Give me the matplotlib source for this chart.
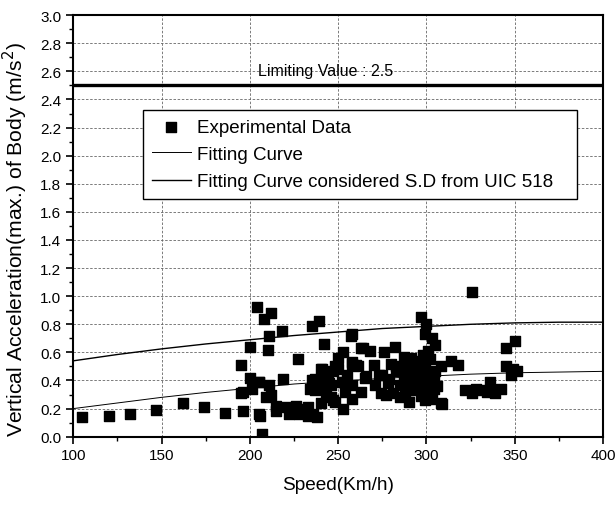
import numpy as np
import matplotlib.pyplot as plt

plt.rcParams['font.family'] = ['Liberation Sans', 'DejaVu Sans']

points_low_speed = [(105, 0.14), (120, 0.15), (132, 0.16), (147, 0.19), (162, 0.24),
                    (174, 0.21), (186, 0.17), (196, 0.18), (196, 0.32), (195, 0.51),
                    (200, 0.64), (200, 0.42), (201, 0.34), (204, 0.92), (205, 0.39),
                    (205, 0.16), (206, 0.15), (207, 0.02), (208, 0.84), (209, 0.28),
                    (210, 0.62), (211, 0.72), (211, 0.37), (212, 0.88), (212, 0.30),
                    (195, 0.31), (205, 0.39)]
points_mid_speed = [(215, 0.22), (215, 0.18), (218, 0.75), (219, 0.41), (221, 0.21),
                    (222, 0.16), (226, 0.22), (228, 0.16), (231, 0.20), (233, 0.15),
                    (235, 0.79), (236, 0.16), (238, 0.14), (239, 0.82), (235, 0.40),
                    (239, 0.40), (242, 0.66), (227, 0.55), (234, 0.34), (240, 0.48),
                    (242, 0.39), (244, 0.44), (246, 0.37), (248, 0.25), (248, 0.50),
                    (250, 0.48), (252, 0.39), (253, 0.20), (254, 0.32), (255, 0.44),
                    (246, 0.28), (237, 0.41), (237, 0.33), (240, 0.24), (233, 0.21),
                    (253, 0.60), (258, 0.52), (247, 0.47), (243, 0.31), (241, 0.48),
                    (247, 0.26), (245, 0.38), (250, 0.56), (253, 0.39), (258, 0.73),
                    (258, 0.37), (258, 0.27), (258, 0.53)]
points_high_speed = [(257, 0.72), (261, 0.50), (260, 0.51), (263, 0.32), (263, 0.63),
                     (264, 0.63), (265, 0.42), (266, 0.43), (268, 0.61), (270, 0.51),
                     (271, 0.37), (273, 0.44), (274, 0.31), (275, 0.44), (276, 0.60),
                     (277, 0.30), (278, 0.38), (279, 0.41), (280, 0.52), (281, 0.31),
                     (282, 0.64), (283, 0.47), (283, 0.50), (285, 0.37), (285, 0.28),
                     (287, 0.44), (287, 0.57), (289, 0.39), (289, 0.50), (290, 0.25),
                     (291, 0.47), (291, 0.56), (293, 0.33), (293, 0.51), (294, 0.41),
                     (294, 0.34), (295, 0.46), (296, 0.45), (297, 0.29), (297, 0.85),
                     (298, 0.50), (298, 0.58), (299, 0.73), (299, 0.26), (299, 0.31),
                     (300, 0.80), (300, 0.46), (300, 0.38), (301, 0.61), (302, 0.44),
                     (302, 0.55), (303, 0.27), (303, 0.70), (304, 0.34), (304, 0.41),
                     (305, 0.65), (305, 0.47), (306, 0.36), (308, 0.50), (308, 0.24),
                     (309, 0.23), (296, 0.36), (298, 0.40), (292, 0.42), (288, 0.30),
                     (286, 0.48), (301, 0.35), (303, 0.42), (295, 0.54), (290, 0.33),
                     (299, 0.51)]
points_far_speed = [(314, 0.54), (318, 0.51), (322, 0.33), (326, 1.03), (326, 0.31),
                    (328, 0.34), (331, 0.33), (334, 0.32), (336, 0.39), (339, 0.31),
                    (342, 0.34), (345, 0.63), (345, 0.50), (348, 0.44), (349, 0.48),
                    (350, 0.68), (351, 0.47)]

# fitting curves, read at every 25 km/h
fit_speed = [100, 125, 150, 175, 200, 225, 250, 275, 300, 325, 350, 375, 400]
fit_mean = [0.20, 0.24, 0.28, 0.315, 0.345, 0.375, 0.395, 0.415, 0.43, 0.445, 0.455, 0.46, 0.465]
fit_sd = [0.54, 0.585, 0.625, 0.66, 0.69, 0.72, 0.745, 0.77, 0.785, 0.80, 0.81, 0.815, 0.815]

limit_value = 2.5

all_points = points_low_speed + points_mid_speed + points_high_speed + points_far_speed
speed = [p[0] for p in all_points]
accel = [p[1] for p in all_points]

fig = plt.figure(figsize=(6.16, 5.06), dpi=100)
ax = fig.add_axes([0.119, 0.135, 0.860, 0.833])

ax.grid(True, which='major', linestyle=(0, (3, 2)), color='#666666', linewidth=0.6)
ax.set_axisbelow(True)

ax.scatter(speed, accel, marker='s', s=42, color='black', label='Experimental Data', zorder=3)
ax.plot(fit_speed, fit_mean, color='black', linewidth=0.7, label='Fitting Curve')
ax.plot(fit_speed, fit_sd, color='black', linewidth=1.0,
        label='Fitting Curve considered S.D from UIC 518')
ax.axhline(limit_value, color='black', linewidth=2.4)
ax.text(243, 2.55, 'Limiting Value : 2.5', fontsize=11.5, ha='center', va='bottom')

ax.set_xlim(100, 400)
ax.set_ylim(0, 3.0)
ax.set_xticks(np.arange(100, 401, 50))
ax.set_xticks(np.arange(100, 401, 25), minor=True)
ax.set_yticks(np.arange(0, 3.01, 0.2))
ax.set_yticks(np.arange(0, 3.01, 0.1), minor=True)
ax.set_yticklabels([f"{v:.1f}" for v in np.arange(0, 3.01, 0.2)])
ax.tick_params(which='major', direction='out', length=5, width=1.2, labelsize=11)
ax.tick_params(which='minor', direction='out', length=3, width=1.0)
for sp in ax.spines.values():
    sp.set_linewidth(1.5)

ax.set_xlabel('Speed(Km/h)', fontsize=13.7, labelpad=10)
ax.set_ylabel('Vertical Acceleration(max.) of Body (m/s$^2$)', fontsize=15.2)
ax.yaxis.set_label_coords(-0.082, 0.47)

leg = ax.legend(loc='upper left', bbox_to_anchor=(0.132, 0.0, 0.818, 0.775), mode='expand',
                fontsize=13.5, frameon=True, fancybox=False, edgecolor='black', framealpha=1,
                handlelength=2.1, borderpad=0.45, labelspacing=0.55, handletextpad=0.3,
                borderaxespad=0)
leg.get_frame().set_linewidth(1.0)

fig.savefig('out.png', dpi=100)
